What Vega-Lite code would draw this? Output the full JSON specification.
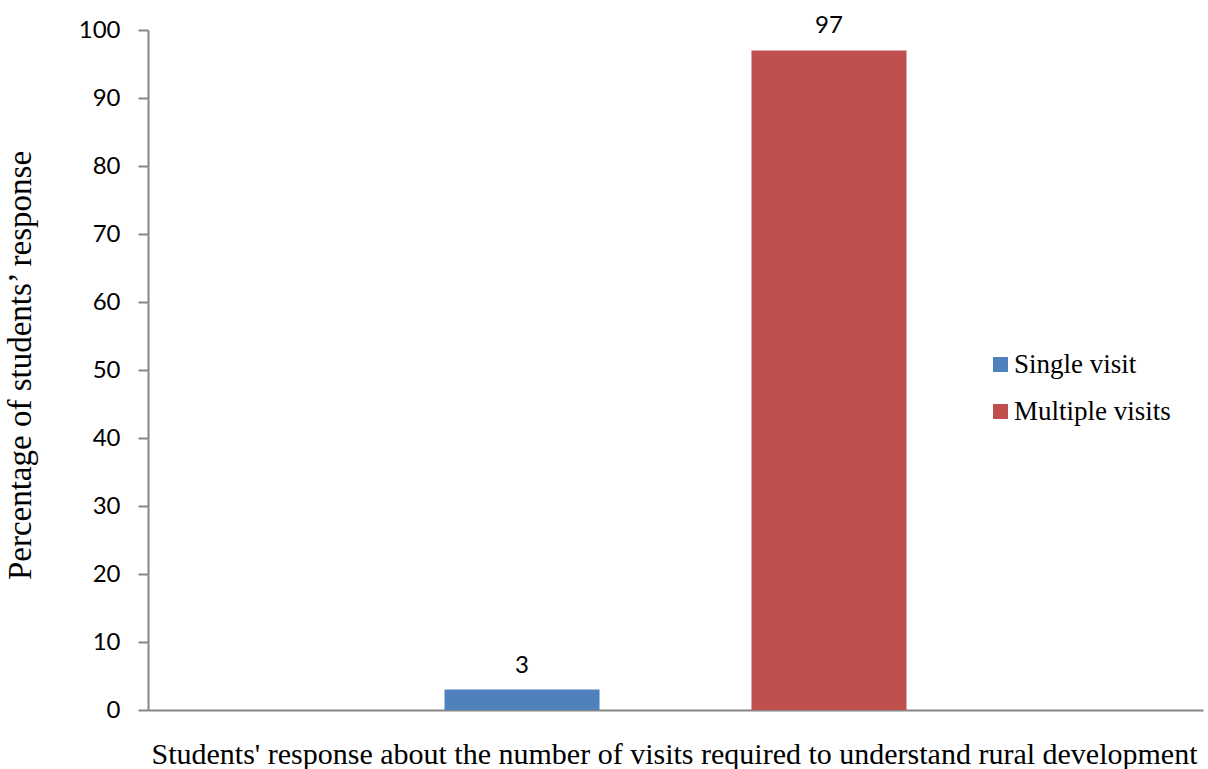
{
  "$schema": "https://vega.github.io/schema/vega-lite/v6.json",
  "width": 1055,
  "height": 680,
  "autosize": {"type": "none"},
  "padding": {"left": 148, "top": 30, "right": 5, "bottom": 59},
  "background": "white",
  "config": {"view": {"stroke": null}},
  "data": {"values": [
    {"series": "Single visit", "value": 3},
    {"series": "Multiple visits", "value": 97}
  ]},
  "encoding": {
    "x": {
      "field": "series", "type": "nominal",
      "sort": ["Single visit", "Multiple visits"],
      "scale": {"paddingInner": 0.495, "paddingOuter": 0.966},
      "axis": {
        "title": "Students' response about the number of visits required to understand rural development",
        "labels": false, "ticks": false,
        "domainColor": "#868686", "domainWidth": 2,
        "titleFont": "Liberation Serif", "titleFontSize": 30, "titleFontWeight": "normal",
        "titleColor": "#000000", "titleX": 526, "titleY": 53,
        "titleBaseline": "alphabetic", "titleAlign": "center"
      }
    },
    "y": {
      "field": "value", "type": "quantitative",
      "scale": {"domain": [0, 100]},
      "axis": {
        "title": "Percentage of students’ response",
        "values": [0, 10, 20, 30, 40, 50, 60, 70, 80, 90, 100],
        "grid": false,
        "domainColor": "#868686", "domainWidth": 2,
        "tickColor": "#868686", "tickWidth": 2, "tickSize": 10,
        "labelPadding": 18, "labelFont": "Lato", "labelFontSize": 24, "labelColor": "#000000",
        "titleFont": "Liberation Serif", "titleFontSize": 33, "titleFontWeight": "normal",
        "titleColor": "#000000", "titleX": -118, "titleY": 335, "titleAngle": -90,
        "titleBaseline": "alphabetic", "titleAlign": "center"
      }
    }
  },
  "layer": [
    {
      "mark": {"type": "bar"},
      "encoding": {
        "color": {
          "field": "series", "type": "nominal",
          "scale": {"domain": ["Single visit", "Multiple visits"], "range": ["#4F81BD", "#C0504D"]},
          "legend": {
            "title": null, "orient": "none", "legendX": 839, "legendY": 321, "padding": 0,
            "symbolType": "square", "symbolSize": 225, "symbolStrokeWidth": 0,
            "labelFont": "Liberation Serif", "labelFontSize": 27, "labelColor": "#000000",
            "labelOffset": 0, "rowPadding": 19
          }
        }
      }
    },
    {
      "mark": {"type": "text", "dy": -17, "baseline": "alphabetic", "font": "Lato", "fontSize": 24, "color": "#000000"},
      "encoding": {"text": {"field": "value", "type": "quantitative"}}
    }
  ]
}
